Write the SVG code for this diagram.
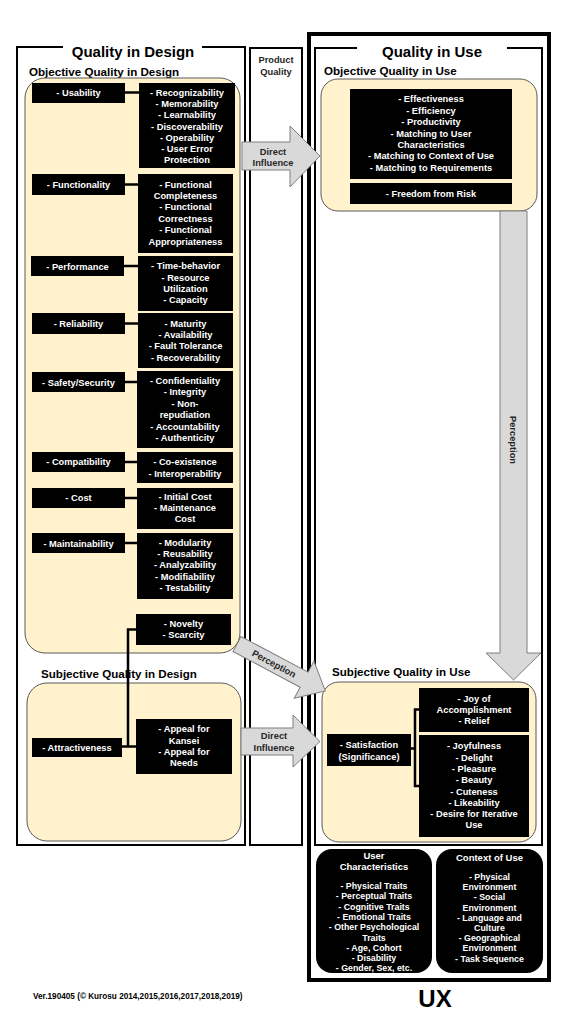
<svg xmlns="http://www.w3.org/2000/svg" width="576" height="1024" viewBox="0 0 576 1024">
<style>
.frame{fill:none;stroke:#000;stroke-width:2}
.cream{fill:#FFF2CC;stroke:#595959;stroke-width:1}
.bb{fill:#000}
.wt{fill:#fff;font-family:"Liberation Sans",Arial,sans-serif;font-weight:bold;font-size:9.3px;text-anchor:middle}
.ws{fill:#fff;font-family:"Liberation Sans",Arial,sans-serif;font-weight:bold;font-size:8.8px;text-anchor:middle}
.wh{fill:#fff;font-family:"Liberation Sans",Arial,sans-serif;font-weight:bold;font-size:9.5px;text-anchor:middle}
.arrow{fill:#D9D9D9;stroke:#7F7F7F;stroke-width:1}
.at{fill:#262626;font-family:"Liberation Sans",Arial,sans-serif;font-weight:bold;font-size:9.3px;text-anchor:middle}
.title{fill:#000;font-family:"Liberation Sans",Arial,sans-serif;font-weight:bold;font-size:15px;text-anchor:middle}
.sub{fill:#000;font-family:"Liberation Sans",Arial,sans-serif;font-weight:bold;font-size:11.6px}
.conn{stroke:#000;stroke-width:2.5;fill:none}
</style>

<!-- Quality in Design frame -->
<g id="quality-in-design">
<path class="frame" d="M63,47 H17 V845 H245 V47 H202"/>
<text class="title" x="133" y="57">Quality in Design</text>
<text class="sub" x="29" y="75.5">Objective Quality in Design</text>
<rect class="cream" x="25" y="78" width="215" height="575" rx="20"/>
<text class="sub" x="41" y="678">Subjective Quality in Design</text>
<rect class="cream" x="27" y="683" width="214" height="158" rx="20"/>
</g>

<g id="product-quality">
<rect class="frame" x="250" y="48" width="52" height="797"/>
<text class="at" fill="#000" x="276" y="63.3">Product</text>
<text class="at" x="276" y="75">Quality</text>
</g>

<!-- UX frame -->
<g id="ux">
<rect fill="none" stroke="#000" stroke-width="4" x="309" y="34" width="240" height="946"/>
<text x="435" y="1007" style="font-family:'Liberation Sans',Arial,sans-serif;font-weight:bold;font-size:24px;text-anchor:middle">UX</text>
</g>

<g id="quality-in-use">
<path class="frame" d="M357,48 H315 V845 H542 V48 H507"/>
<text class="title" x="432" y="57">Quality in Use</text>
<text class="sub" x="324" y="74.5">Objective Quality in Use</text>
<rect class="cream" x="321" y="79" width="216" height="132" rx="17"/>
<text class="sub" x="332" y="676">Subjective Quality in Use</text>
<rect class="cream" x="322" y="682" width="214" height="160" rx="17"/>
</g>

<!-- Left nodes -->
<g id="usability">
<rect class="bb" x="32" y="83" width="93" height="20"/>
<text class="wt" x="78.5" y="96.2">- Usability</text>
</g>
<g id="usability-items">
<rect class="bb" x="139" y="83" width="96" height="85"/>
<text class="wt"><tspan x="187" y="95.6">- Recognizability</tspan><tspan x="187" y="106.9">- Memorability</tspan><tspan x="187" y="118.2">- Learnability</tspan><tspan x="187" y="129.5">- Discoverability</tspan><tspan x="187" y="140.8">- Operability</tspan><tspan x="187" y="152.1">- User Error</tspan><tspan x="187" y="163.4">Protection</tspan></text>
</g>

<g id="functionality">
<rect class="bb" x="32" y="174" width="93" height="21"/>
<text class="wt" x="78.5" y="188">- Functionality</text>
</g>
<g id="functionality-items">
<rect class="bb" x="138" y="174" width="95" height="79"/>
<text class="wt"><tspan x="185.5" y="187.6">- Functional</tspan><tspan x="185.5" y="199">Completeness</tspan><tspan x="185.5" y="210.4">- Functional</tspan><tspan x="185.5" y="221.8">Correctness</tspan><tspan x="185.5" y="233.2">- Functional</tspan><tspan x="185.5" y="244.6">Appropriateness</tspan></text>
</g>

<g id="performance">
<rect class="bb" x="31" y="256" width="93" height="20"/>
<text class="wt" x="77.5" y="269.5">- Performance</text>
</g>
<g id="performance-items">
<rect class="bb" x="138" y="256" width="95" height="55"/>
<text class="wt"><tspan x="185.5" y="269.3">- Time-behavior</tspan><tspan x="185.5" y="280.6">- Resource</tspan><tspan x="185.5" y="291.9">Utilization</tspan><tspan x="185.5" y="303.2">- Capacity</tspan></text>
</g>

<g id="reliability">
<rect class="bb" x="32" y="313" width="93" height="21"/>
<text class="wt" x="78.5" y="326.8">- Reliability</text>
</g>
<g id="reliability-items">
<rect class="bb" x="138" y="313" width="95" height="55"/>
<text class="wt"><tspan x="185.5" y="326.6">- Maturity</tspan><tspan x="185.5" y="337.9">- Availability</tspan><tspan x="185.5" y="349.2">- Fault Tolerance</tspan><tspan x="185.5" y="360.5">- Recoverability</tspan></text>
</g>

<g id="safety-security">
<rect class="bb" x="32" y="372" width="93" height="20"/>
<text class="wt" x="78.5" y="385.6">- Safety/Security</text>
</g>
<g id="safety-security-items">
<rect class="bb" x="137" y="371" width="96" height="77"/>
<text class="wt"><tspan x="185" y="384">- Confidentiality</tspan><tspan x="185" y="395.4">- Integrity</tspan><tspan x="185" y="406.8">- Non-</tspan><tspan x="185" y="418.2">repudiation</tspan><tspan x="185" y="429.6">- Accountability</tspan><tspan x="185" y="441">- Authenticity</tspan></text>
</g>

<g id="compatibility">
<rect class="bb" x="32" y="452" width="93" height="20"/>
<text class="wt" x="78.5" y="465.3">- Compatibility</text>
</g>
<g id="compatibility-items">
<rect class="bb" x="137" y="452" width="96" height="31"/>
<text class="wt"><tspan x="185" y="465">- Co-existence</tspan><tspan x="185" y="476.5">- Interoperability</tspan></text>
</g>

<g id="cost">
<rect class="bb" x="32" y="488" width="93" height="20"/>
<text class="wt" x="78.5" y="501.3">- Cost</text>
</g>
<g id="cost-items">
<rect class="bb" x="137" y="488" width="96" height="41"/>
<text class="wt"><tspan x="185" y="499.5">- Initial Cost</tspan><tspan x="185" y="510.8">- Maintenance</tspan><tspan x="185" y="522.1">Cost</tspan></text>
</g>

<g id="maintainability">
<rect class="bb" x="32" y="533" width="93" height="20"/>
<text class="wt" x="78.5" y="546.6">- Maintainability</text>
</g>
<g id="maintainability-items">
<rect class="bb" x="137" y="533" width="96" height="66"/>
<text class="wt"><tspan x="185" y="545.6">- Modularity</tspan><tspan x="185" y="557">- Reusability</tspan><tspan x="185" y="568.3">- Analyzability</tspan><tspan x="185" y="579.6">- Modifiability</tspan><tspan x="185" y="591">- Testability</tspan></text>
</g>

<g id="novelty">
<rect class="bb" x="136" y="614" width="95" height="31"/>
<text class="wt"><tspan x="183.5" y="626.6">- Novelty</tspan><tspan x="183.5" y="637.9">- Scarcity</tspan></text>
</g>

<g id="attractiveness">
<rect class="bb" x="32" y="738" width="90" height="19"/>
<text class="wt" x="77" y="750.6">- Attractiveness</text>
</g>
<g id="appeal">
<rect class="bb" x="136" y="719" width="96" height="55"/>
<text class="wt"><tspan x="184" y="732.3">- Appeal for</tspan><tspan x="184" y="743.6">Kansei</tspan><tspan x="184" y="755">- Appeal for</tspan><tspan x="184" y="766.3">Needs</tspan></text>
</g>

<!-- Right nodes -->
<g id="objective-use-items">
<rect class="bb" x="350" y="89" width="162" height="90"/>
<text class="wt"><tspan x="431" y="102.3">- Effectiveness</tspan><tspan x="431" y="113.7">- Efficiency</tspan><tspan x="431" y="125.1">- Productivity</tspan><tspan x="431" y="136.5">- Matching to User</tspan><tspan x="431" y="147.9">Characteristics</tspan><tspan x="431" y="159.3">- Matching to Context of Use</tspan><tspan x="431" y="170.7">- Matching to Requirements</tspan></text>
</g>
<g id="freedom-from-risk">
<rect class="bb" x="350" y="183" width="162" height="21"/>
<text class="wt" x="431" y="196.5">- Freedom from Risk</text>
</g>

<g id="satisfaction">
<rect class="bb" x="327" y="734" width="84" height="32"/>
<text class="wt"><tspan x="369" y="748.3">- Satisfaction</tspan><tspan x="369" y="759.8">(Significance)</tspan></text>
</g>
<g id="joy">
<rect class="bb" x="419" y="688" width="110" height="44"/>
<text class="wt"><tspan x="474" y="701.6">- Joy of</tspan><tspan x="474" y="712.9">Accomplishment</tspan><tspan x="474" y="724.2">- Relief</tspan></text>
</g>
<g id="joyfulness">
<rect class="bb" x="419" y="735" width="110" height="102"/>
<text class="wt"><tspan x="474" y="749.3">- Joyfulness</tspan><tspan x="474" y="760.6">- Delight</tspan><tspan x="474" y="771.9">- Pleasure</tspan><tspan x="474" y="783.2">- Beauty</tspan><tspan x="474" y="794.5">- Cuteness</tspan><tspan x="474" y="805.8">- Likeability</tspan><tspan x="474" y="817.1">- Desire for Iterative</tspan><tspan x="474" y="828.4">Use</tspan></text>
</g>

<g id="user-characteristics">
<rect class="bb" x="316" y="849" width="116" height="124" rx="16"/>
<text class="wh"><tspan x="374" y="858.5">User</tspan><tspan x="374" y="869.5">Characteristics</tspan></text>
<text class="ws"><tspan x="374" y="889">- Physical Traits</tspan><tspan x="374" y="899.3">- Perceptual Traits</tspan><tspan x="374" y="909.6">- Cognitive Traits</tspan><tspan x="374" y="919.9">- Emotional Traits</tspan><tspan x="374" y="930.2">- Other Psychological</tspan><tspan x="374" y="940.5">Traits</tspan><tspan x="374" y="950.8">- Age, Cohort</tspan><tspan x="374" y="961.1">- Disability</tspan><tspan x="374" y="971.4">- Gender, Sex, etc.</tspan></text>
</g>
<g id="context-of-use">
<rect class="bb" x="436" y="849" width="107" height="124" rx="16"/>
<text class="wh" x="489.5" y="861">Context of Use</text>
<text class="ws"><tspan x="489.5" y="880">- Physical</tspan><tspan x="489.5" y="890.2">Environment</tspan><tspan x="489.5" y="900.4">- Social</tspan><tspan x="489.5" y="910.6">Environment</tspan><tspan x="489.5" y="920.8">- Language and</tspan><tspan x="489.5" y="931">Culture</tspan><tspan x="489.5" y="941.2">- Geographical</tspan><tspan x="489.5" y="951.4">Environment</tspan><tspan x="489.5" y="961.6">- Task Sequence</tspan></text>
</g>

<!-- Connectors -->
<g id="connectors">
<path class="conn" d="M125,92.5 H139"/>
<path class="conn" d="M125,184.5 H138"/>
<path class="conn" d="M124,266 H138"/>
<path class="conn" d="M125,323.5 H138"/>
<path class="conn" d="M125,382 H137"/>
<path class="conn" d="M125,462 H137"/>
<path class="conn" d="M125,498 H137"/>
<path class="conn" d="M125,543 H137"/>
<path class="conn" d="M136,629.5 H128 V746.5 M122,746.5 H136"/>
<path class="conn" d="M419,709.5 H415 V786 H419 M411,748.5 H415"/>

<g id="direct-influence-1">
<path class="arrow" d="M242,142 H290 V126 L320,156 L290,187 V170 H242 Z"/>
<text class="at"><tspan x="273" y="154.5">Direct</tspan><tspan x="273" y="165.5">Influence</tspan></text>
</g>
<g id="direct-influence-2">
<path class="arrow" d="M241,728 H293 V715 L320,741.5 L293,767 V755 H241 Z"/>
<text class="at"><tspan x="274" y="739.3">Direct</tspan><tspan x="274" y="750.5">Influence</tspan></text>
</g>
<g id="perception-diagonal" transform="translate(237,644) rotate(28)">
<path class="arrow" d="M0,-8.5 H76 V-21 L100,0 L76,21 V8.5 H0 Z"/>
<text class="at" x="42" y="3.3">Perception</text>
</g>
<g id="perception-vertical">
<path class="arrow" d="M500,211 H527 V653 H541 L513.5,680 L486,653 H500 Z"/>
<text class="at" transform="translate(510,440) rotate(90)" x="0" y="0">Perception</text>
</g>
</g>

<text x="33" y="999" style="font-family:'Liberation Sans',Arial,sans-serif;font-weight:bold;font-size:8.2px;fill:#000">Ver.190405 (© Kurosu 2014,2015,2016,2017,2018,2019)</text>
</svg>
